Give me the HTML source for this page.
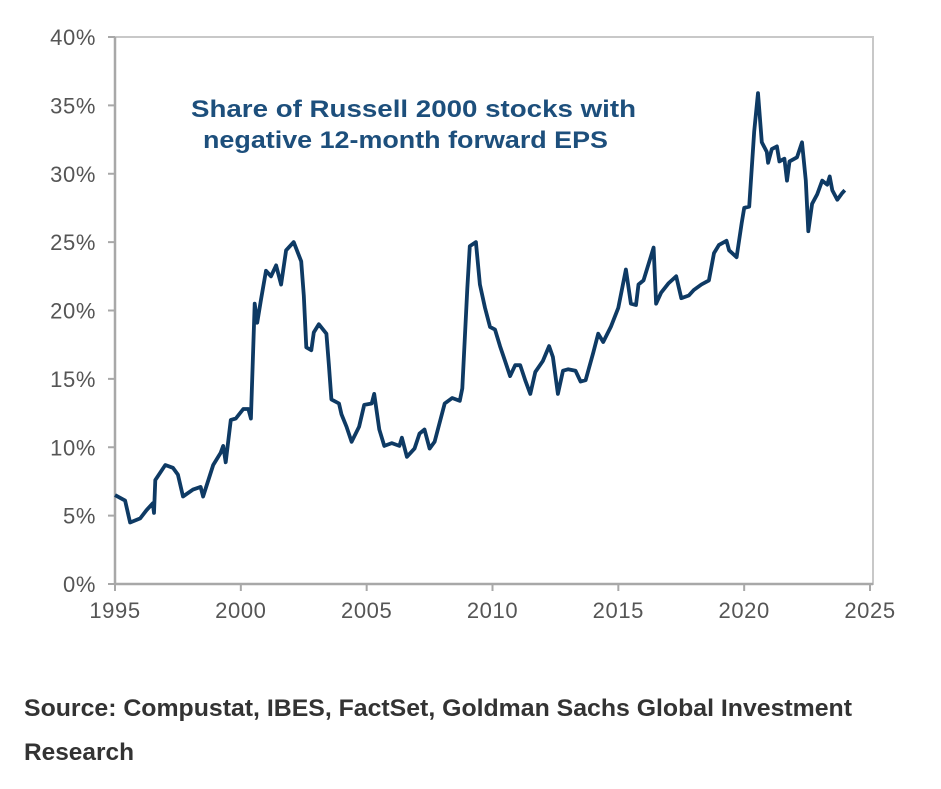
<!DOCTYPE html>
<html><head><meta charset="utf-8"><style>
body{margin:0;background:#fff;width:941px;height:784px;overflow:hidden;font-family:"Liberation Sans",Arial,sans-serif}
</style></head><body>
<svg id="chart" width="941" height="784" xmlns="http://www.w3.org/2000/svg"></svg>
<script>
const years=[1995.0,1995.4,1995.6,1996.0,1996.25,1996.5,1996.55,1996.6,1997.0,1997.3,1997.5,1997.7,1998.1,1998.4,1998.5,1998.9,1999.2,1999.3,1999.4,1999.6,1999.8,2000.1,2000.3,2000.4,2000.55,2000.65,2000.8,2001.0,2001.2,2001.4,2001.6,2001.8,2002.1,2002.4,2002.5,2002.6,2002.8,2002.9,2003.1,2003.4,2003.5,2003.6,2003.9,2004.0,2004.2,2004.4,2004.7,2004.9,2005.2,2005.3,2005.5,2005.7,2006.0,2006.3,2006.4,2006.6,2006.9,2007.1,2007.3,2007.5,2007.7,2008.1,2008.4,2008.7,2008.8,2009.0,2009.1,2009.34,2009.5,2009.7,2009.9,2010.1,2010.3,2010.5,2010.7,2010.9,2011.1,2011.3,2011.5,2011.7,2012.0,2012.25,2012.4,2012.6,2012.8,2013.0,2013.3,2013.5,2013.7,2014.0,2014.2,2014.4,2014.7,2015.0,2015.3,2015.5,2015.7,2015.8,2016.0,2016.4,2016.5,2016.7,2017.0,2017.3,2017.5,2017.8,2018.0,2018.3,2018.6,2018.8,2019.0,2019.3,2019.4,2019.7,2019.9,2020.0,2020.2,2020.4,2020.55,2020.7,2020.9,2020.95,2021.1,2021.3,2021.4,2021.6,2021.7,2021.8,2022.1,2022.3,2022.45,2022.55,2022.7,2022.9,2023.1,2023.3,2023.4,2023.5,2023.7,2023.9,2024.0];
const values=[6.5,6.1,4.5,4.8,5.4,5.9,5.2,7.6,8.7,8.5,8.0,6.4,6.9,7.1,6.4,8.7,9.6,10.1,8.9,12.0,12.1,12.8,12.8,12.1,20.5,19.1,20.8,22.9,22.5,23.3,21.9,24.4,25.0,23.6,21.1,17.3,17.1,18.4,19.0,18.3,16.0,13.5,13.2,12.4,11.5,10.4,11.5,13.1,13.2,13.9,11.3,10.1,10.3,10.1,10.7,9.3,9.9,11.0,11.3,9.9,10.4,13.2,13.6,13.4,14.3,21.6,24.7,25.0,21.9,20.2,18.8,18.6,17.4,16.3,15.2,16.0,16.0,14.9,13.9,15.5,16.3,17.4,16.6,13.9,15.6,15.7,15.6,14.8,14.9,16.9,18.3,17.7,18.8,20.2,23.0,20.5,20.4,21.9,22.2,24.6,20.5,21.3,22.0,22.5,20.9,21.1,21.5,21.9,22.2,24.2,24.8,25.1,24.4,23.9,26.4,27.5,27.6,33.1,35.9,32.3,31.6,30.8,31.8,32.0,30.9,31.1,29.5,30.9,31.2,32.3,29.5,25.8,27.8,28.5,29.5,29.2,29.8,28.8,28.1,28.6,28.8];
const yTicks=[0,5,10,15,20,25,30,35,40];
const xTicks=[1995,2000,2005,2010,2015,2020,2025];
const NS='http://www.w3.org/2000/svg';
const svg=document.getElementById('chart');
const L=115,R=870,T=37,B=584;
const xs=y=>L+(y-1995)/30*(R-L);
const ys=v=>B-v/40*(B-T);
function mk(tag,a,txt){const e=document.createElementNS(NS,tag);for(const k in a)e.setAttribute(k,a[k]);if(txt!==undefined)e.textContent=txt;svg.appendChild(e);return e;}
let f=mk('rect',{x:L,y:T,width:R+3-L,height:B-T,fill:'none',stroke:'#c8c8c8','stroke-width':2});


let ya=mk('line',{x1:L,y1:T,x2:L,y2:B,stroke:'#a8a8a8','stroke-width':2.5});


let xa=mk('line',{x1:L,y1:B,x2:R+3,y2:B,stroke:'#a8a8a8','stroke-width':2.5});


yTicks.forEach(v=>{
  const t=mk('line',{x1:L-7,y1:ys(v),x2:L,y2:ys(v),stroke:'#a8a8a8','stroke-width':2});
  
  
  const l=mk('text',{x:96,y:ys(v)+8,'text-anchor':'end','font-size':22,'letter-spacing':0.6,fill:'#555'},v+'%');
  
  
});
xTicks.forEach(v=>{
  const t=mk('line',{x1:xs(v),y1:B,x2:xs(v),y2:B+7,stroke:'#a8a8a8','stroke-width':2});
  
  
  const l=mk('text',{x:xs(v),y:B+34,'text-anchor':'middle','font-size':22,'letter-spacing':0.6,fill:'#555'},v);
  
  
});
const d=years.map((y,i)=>(i?'L':'M')+xs(y).toFixed(1)+' '+ys(values[i]).toFixed(1)).join(' ');
const p=mk('path',{d:d,fill:'none',stroke:'#0e3a64','stroke-width':3.8,'stroke-linejoin':'round'});


const t1=mk('text',{x:191,y:117,'font-size':24,'font-weight':'bold',fill:'#1d4f7c',textLength:445,lengthAdjust:'spacingAndGlyphs'},'Share of Russell 2000 stocks with');


const t2=mk('text',{x:203,y:148,'font-size':24,'font-weight':'bold',fill:'#1d4f7c',textLength:405,lengthAdjust:'spacingAndGlyphs'},'negative 12-month forward EPS');


const s1=mk('text',{x:24,y:716,'font-size':24,'font-weight':'bold',fill:'#333',textLength:828,lengthAdjust:'spacingAndGlyphs'},'Source: Compustat, IBES, FactSet, Goldman Sachs Global Investment');


const s2=mk('text',{x:24,y:760,'font-size':24,'font-weight':'bold',fill:'#333',textLength:110,lengthAdjust:'spacingAndGlyphs'},'Research');


</script>
</body></html>
